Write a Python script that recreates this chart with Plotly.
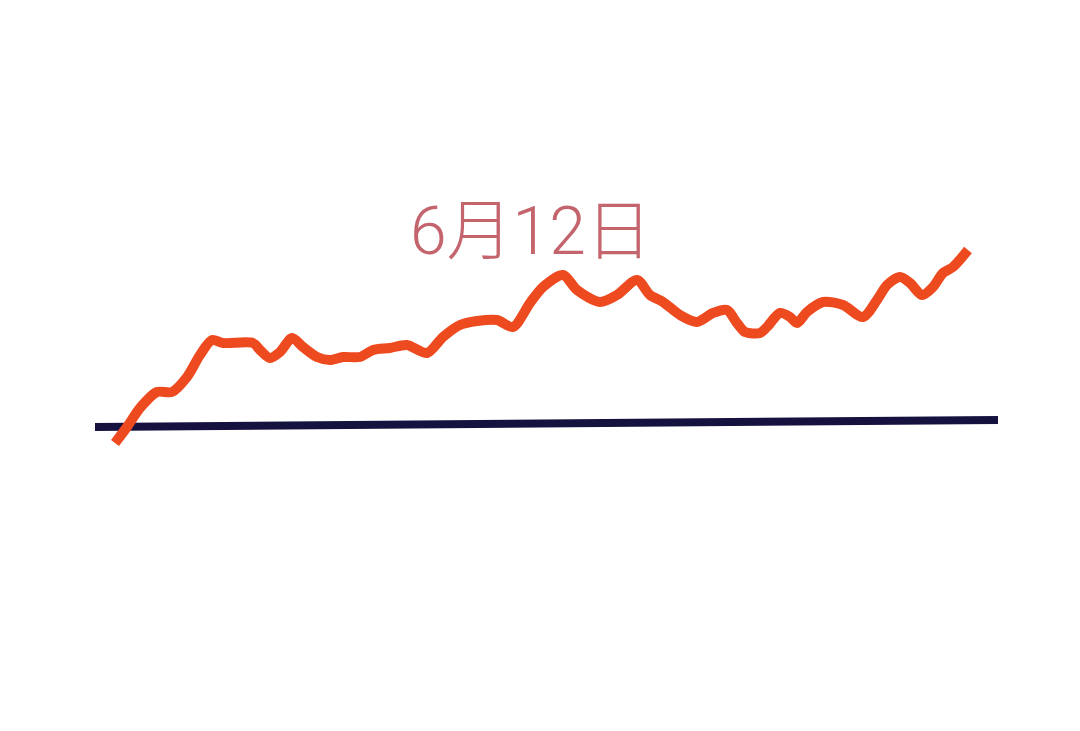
import plotly.graph_objects as go

# Hand-drawn trend line, traced in image pixel coordinates
trend_x = [115, 127, 140, 157, 172, 187, 200, 212, 223, 253, 260, 270, 280, 292, 303, 317, 330,
           343, 360, 373, 390, 407, 427, 443, 460, 477, 497, 513, 530, 543, 563, 577, 600, 617,
           637, 650, 663, 680, 697, 713, 727, 737, 745, 760, 767, 780, 790, 797, 807, 823, 843,
           863, 877, 887, 900, 910, 922, 933, 943, 953, 968]
trend_y = [443, 427, 408, 392, 392, 377, 355, 340, 343, 343, 350, 358, 352, 338, 347, 357, 360,
           357, 357, 350, 348, 345, 353, 337, 325, 321, 320, 327, 303, 287, 275, 290, 302, 295,
           280, 295, 302, 315, 322, 313, 310, 323, 332, 333, 327, 313, 317, 323, 312, 302, 305,
           317, 300, 285, 277, 283, 295, 287, 273, 267, 250]

base_x = [95, 998]
base_y = [427, 420]

title_text = "6月12日"

fig = go.Figure()
fig.add_trace(go.Scatter(x=base_x, y=base_y, mode="lines",
                         line=dict(color="#15123f", width=8), hoverinfo="skip"))
fig.add_trace(go.Scatter(x=trend_x, y=trend_y, mode="lines",
                         line=dict(color="#ee4a20", width=10, shape="spline", smoothing=0.8),
                         hoverinfo="skip"))
fig.add_annotation(x=531, y=231, xref="x", yref="y", text=title_text, showarrow=False,
                   font=dict(family="Roboto, Noto Sans CJK SC", size=66, color="#c4646c",
                             weight=300))

# the page body adds an 8px margin; offset the ranges so data coords equal screen pixels
fig.update_layout(width=1080, height=731, margin=dict(l=0, r=0, t=0, b=0),
                  paper_bgcolor="white", plot_bgcolor="white", showlegend=False,
                  xaxis=dict(range=[8, 1088], visible=False, fixedrange=True),
                  yaxis=dict(range=[739, 8], visible=False, fixedrange=True))
fig.write_html("out.html")
